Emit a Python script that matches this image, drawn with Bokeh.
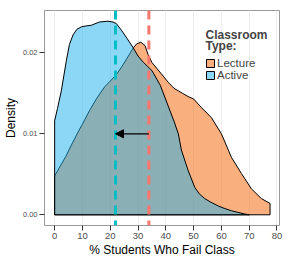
from bokeh.plotting import figure
from bokeh.models import (Range1d, FixedTicker, Span, Arrow, NormalHead, Legend,
                          LegendItem, Label)
from bokeh.embed import file_html
from bokeh.resources import INLINE

# ---- data ----
active_x = [0, 1, 2.4, 4.2, 5.3, 6.6, 8, 9.6, 11, 13.2, 16.1, 19.2, 21, 22.2, 24, 26,
            28.3, 30, 32, 35, 38, 41, 43, 44.5, 45.6, 48, 50.4, 52, 54, 56, 58.8,
            61, 63.6, 66, 68.4, 70]
active_y = [0.0116, 0.0131, 0.0153, 0.0190, 0.0210, 0.0222, 0.0229, 0.0232, 0.0233,
            0.0234, 0.0238, 0.0239, 0.0238, 0.0236, 0.0228, 0.0218, 0.0206, 0.0196,
            0.0188, 0.0178, 0.0160, 0.0133, 0.0115, 0.0100, 0.0080, 0.0055, 0.0034,
            0.0026, 0.0020, 0.0016, 0.0011, 0.0008, 0.0005, 0.0003, 0.0001, 0.0]

lecture_x = [0, 2, 4, 6, 8.4, 10, 12.6, 15, 18, 20, 22.2, 24, 26, 28.3, 29.5, 31,
             32.5, 33.6, 35, 38.4, 41, 43, 46, 48, 50, 52.9, 56.4, 60, 63.6, 67.2,
             70.8, 74.4, 77.5]
lecture_y = [0.0048, 0.0060, 0.0072, 0.0086, 0.0102, 0.0112, 0.0129, 0.0143, 0.0158,
             0.0165, 0.0173, 0.0182, 0.0193, 0.0206, 0.0211, 0.0213, 0.0209, 0.0198,
             0.0188, 0.0174, 0.0163, 0.0156, 0.0150, 0.0146, 0.0143, 0.0132, 0.0120,
             0.0100, 0.0071, 0.0051, 0.0032, 0.0020, 0.0014]

active_mean = 21.9
lecture_mean = 33.9
arrow_y = 0.01

x_ticks = [0, 10, 20, 30, 40, 50, 60, 70, 80]
y_ticks = [0.0, 0.01, 0.02]
y_tick_labels = ["0.00", "0.01", "0.02"]
series_labels = ["Lecture", "Active"]

FONT = "Liberation Sans"

p = figure(width=294, height=259, output_backend="svg", toolbar_location=None,
           x_range=Range1d(-3.65, 80.9), y_range=Range1d(-0.00132, 0.02522),
           min_border_left=43, min_border_right=15, min_border_top=10,
           min_border_bottom=34)
p.background_fill_color = "white"
p.border_fill_color = "white"
p.outline_line_color = "#9a9a9a"
p.outline_line_width = 1

# grid
p.xgrid.ticker = FixedTicker(ticks=x_ticks)
p.xgrid.grid_line_color = "#eeeeee"
p.xgrid.grid_line_width = 1
p.ygrid.grid_line_color = None

# densities as closed polygons
lec_px = [lecture_x[0]] + lecture_x + [lecture_x[-1]]
lec_py = [0.0] + lecture_y + [0.0]
act_px = [active_x[0]] + active_x + [active_x[-1]]
act_py = [0.0] + active_y + [0.0]

lec = p.patch(lec_px, lec_py, fill_color="#F55F00", fill_alpha=0.5,
              line_color="black", line_width=1)
act = p.patch(act_px, act_py, fill_color="#19AFEB", fill_alpha=0.5,
              line_color="black", line_width=1)

# mean lines
p.add_layout(Span(location=active_mean, dimension="height", line_color="#00BFC4",
                  line_width=3, line_dash="9 6"))
p.add_layout(Span(location=lecture_mean, dimension="height", line_color="#F8766D",
                  line_width=3, line_dash="9 6"))

# arrow
p.add_layout(Arrow(end=NormalHead(size=8, fill_color="black", line_color="black"),
                   x_start=lecture_mean, y_start=arrow_y, x_end=active_mean, y_end=arrow_y,
                   line_color="black", line_width=1.3))

# axes
for ax in (p.xaxis[0], p.yaxis[0]):
    ax.axis_line_color = None
    ax.major_tick_line_color = "#333333"
    ax.major_tick_out = 5
    ax.major_tick_in = 0
    ax.minor_tick_line_color = None
    ax.major_label_text_color = "#4d4d4d"
    ax.major_label_text_font = FONT
    ax.axis_label_text_font = FONT
    ax.axis_label_text_font_style = "normal"
    ax.axis_label_text_font_size = "12px"
    ax.axis_label_text_color = "black"

p.xaxis.ticker = FixedTicker(ticks=x_ticks)
p.xaxis.major_label_text_font_size = "9.5px"
p.xaxis.major_label_standoff = 2
p.xaxis.axis_label = "% Students Who Fail Class"
p.xaxis.axis_label_standoff = 1

p.yaxis.ticker = FixedTicker(ticks=y_ticks)
p.yaxis.major_label_overrides = {t: l for t, l in zip(y_ticks, y_tick_labels)}
p.yaxis.major_label_text_font_size = "7.5px"
p.yaxis.major_label_standoff = 2
p.yaxis.axis_label = "Density"
p.yaxis.axis_label_standoff = 2


# legend: one Legend per entry so rows can sit close together
def make_legend(label, renderer, y):
    return Legend(items=[LegendItem(label=label, renderers=[renderer])],
                  location=(161, y), orientation="vertical",
                  padding=0, margin=0, spacing=0, glyph_width=10, glyph_height=10,
                  label_height=10, label_standoff=2, label_text_font=FONT,
                  label_text_font_size="11.5px", border_line_color=None,
                  background_fill_alpha=0.0)


p.add_layout(make_legend(series_labels[0], lec, 156))
p.add_layout(make_legend(series_labels[1], act, 144))
p.add_layout(Label(x=161, y=184, x_units="screen", y_units="screen", text="Classroom",
                   text_font=FONT, text_font_style="bold", text_font_size="12px",
                   text_baseline="bottom"))
p.add_layout(Label(x=161, y=173, x_units="screen", y_units="screen", text="Type:",
                   text_font=FONT, text_font_style="bold", text_font_size="12px",
                   text_baseline="bottom"))

open("out.html", "w").write(file_html(p, INLINE))
